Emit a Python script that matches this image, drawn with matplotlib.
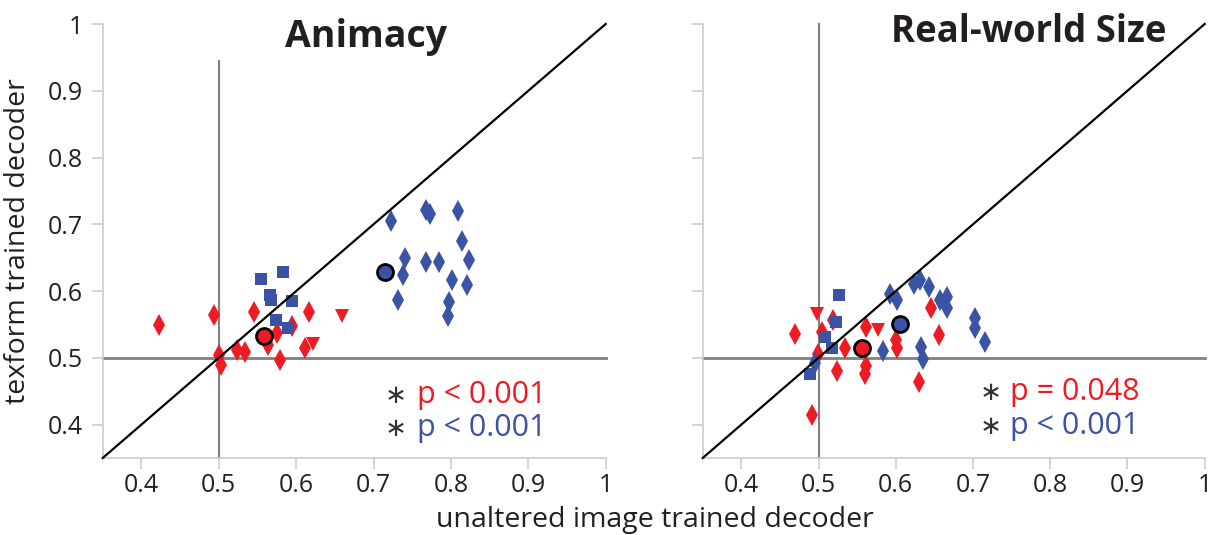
import matplotlib
matplotlib.use("Agg")
import matplotlib.pyplot as plt

plt.rcParams['font.family'] = ['Open Sans', 'DejaVu Sans']

RED = '#ed1c24'
BLUE = '#3a53a4'

# Animacy panel
ani_red_d_x = [0.423, 0.494, 0.546, 0.616, 0.500, 0.503, 0.524, 0.534, 0.579, 0.575, 0.594, 0.564, 0.612]
ani_red_d_y = [0.549, 0.564, 0.569, 0.569, 0.505, 0.489, 0.512, 0.509, 0.497, 0.537, 0.547, 0.519, 0.514]
ani_red_t_x = [0.622, 0.659]
ani_red_t_y = [0.521, 0.562]
ani_blue_s_x = [0.554, 0.583, 0.566, 0.567, 0.594, 0.574, 0.590]
ani_blue_s_y = [0.618, 0.628, 0.594, 0.586, 0.585, 0.557, 0.544]
ani_blue_d_x = [0.723, 0.768, 0.773, 0.809, 0.814, 0.823, 0.741, 0.738, 0.768, 0.784, 0.801, 0.821, 0.732, 0.798, 0.796]
ani_blue_d_y = [0.705, 0.722, 0.715, 0.720, 0.675, 0.647, 0.649, 0.624, 0.644, 0.644, 0.617, 0.609, 0.587, 0.584, 0.562]
ani_mean_red = (0.558, 0.532)
ani_mean_blue = (0.715, 0.628)

# Real-world size panel
rws_red_d_x = [0.469, 0.519, 0.504, 0.534, 0.524, 0.562, 0.562, 0.560, 0.600, 0.601, 0.646, 0.656, 0.630, 0.492, 0.499]
rws_red_d_y = [0.535, 0.556, 0.539, 0.514, 0.481, 0.546, 0.488, 0.476, 0.526, 0.514, 0.574, 0.534, 0.464, 0.414, 0.506]
rws_red_t_x = [0.498, 0.577]
rws_red_t_y = [0.566, 0.541]
rws_blue_s_x = [0.527, 0.522, 0.509, 0.517, 0.489]
rws_blue_s_y = [0.594, 0.553, 0.531, 0.514, 0.476]
rws_blue_d_x = [0.496, 0.583, 0.592, 0.601, 0.623, 0.631, 0.643, 0.657, 0.666, 0.666, 0.633, 0.635, 0.703, 0.703, 0.716]
rws_blue_d_y = [0.493, 0.511, 0.596, 0.586, 0.611, 0.616, 0.606, 0.586, 0.591, 0.574, 0.516, 0.498, 0.559, 0.544, 0.523]
rws_mean_red = (0.556, 0.514)
rws_mean_blue = (0.605, 0.551)

ticks = [0.4, 0.5, 0.6, 0.7, 0.8, 0.9, 1.0]
tick_labels = ['0.4', '0.5', '0.6', '0.7', '0.8', '0.9', '1']


def draw_panel(ax, rd, rt, bs, bd, mr, mb, vtop, ylabels):
    ax.set_xlim(0.35, 1.0)
    ax.set_ylim(0.35, 1.0)
    for s in ['top', 'right']:
        ax.spines[s].set_visible(False)
    for s in ['left', 'bottom']:
        ax.spines[s].set_color('#c8c8c8')
        ax.spines[s].set_linewidth(1.1)
    ax.set_xticks(ticks)
    ax.set_xticklabels(tick_labels)
    ax.set_yticks(ticks)
    if ylabels:
        ax.set_yticklabels(tick_labels)
    else:
        ax.set_yticklabels([])
    ax.tick_params(axis='both', direction='out', length=8, width=1.1, color='#c8c8c8',
                   labelsize=18, labelcolor='#231f20')
    ax.tick_params(axis='y', pad=6)
    ax.tick_params(axis='x', pad=3)

    # reference lines
    ax.plot([0.35, 1.0], [0.5, 0.5], color='#808080', lw=2, zorder=1, clip_on=False)
    ax.plot([0.5, 0.5], [0.35, vtop], color='#808080', lw=1.5, zorder=1, clip_on=False)

    ax.plot(rd[0], rd[1], 'd', color=RED, ms=11, mew=0, zorder=2, clip_on=False)
    ax.plot(rt[0], rt[1], 'v', color=RED, ms=10.5, mew=0, zorder=2, clip_on=False)
    ax.plot(bs[0], bs[1], 's', color=BLUE, ms=8.5, mew=0, zorder=2, clip_on=False)
    ax.plot(bd[0], bd[1], 'd', color=BLUE, ms=11, mew=0, zorder=2, clip_on=False)

    ax.plot([0.35, 1.0], [0.35, 1.0], color='black', lw=1.6, zorder=3, clip_on=False)

    ax.plot([mr[0]], [mr[1]], 'o', mfc=RED, mec='black', ms=11.5, mew=2, zorder=4)
    ax.plot([mb[0]], [mb[1]], 'o', mfc=BLUE, mec='black', ms=11.5, mew=2, zorder=4)


W, H = 1214, 535
fig = plt.figure(figsize=(W / 100, H / 100), dpi=100)

ax1 = fig.add_axes([102.7 / W, 77 / H, 503 / W, 434 / H])
ax2 = fig.add_axes([702.7 / W, 77 / H, 502 / W, 434 / H])

draw_panel(ax1, (ani_red_d_x, ani_red_d_y), (ani_red_t_x, ani_red_t_y),
           (ani_blue_s_x, ani_blue_s_y), (ani_blue_d_x, ani_blue_d_y),
           ani_mean_red, ani_mean_blue, 0.944, True)
draw_panel(ax2, (rws_red_d_x, rws_red_d_y), (rws_red_t_x, rws_red_t_y),
           (rws_blue_s_x, rws_blue_s_y), (rws_blue_d_x, rws_blue_d_y),
           rws_mean_red, rws_mean_blue, 1.0, False)

# titles
fig.text(366.5 / W, 1 - 47 / H, 'Animacy', fontsize=27, fontweight='bold',
         ha='center', va='baseline', color='#231f20')
fig.text(1028.5 / W, 1 - 42 / H, 'Real-world Size', fontsize=26.3, fontweight='bold',
         ha='center', va='baseline', color='#231f20')

# axis labels
fig.text(655 / W, 1 - 527 / H, 'unaltered image trained decoder', fontsize=20.5,
         ha='center', va='baseline', color='#231f20')
fig.text(4 / W, 1 - 241 / H, 'texform trained decoder', fontsize=20.5, rotation=90,
         ha='left', va='center', color='#231f20')

# significance notes
notes = [
    (396, 417, 403, 'p < 0.001', RED),
    (396, 417, 436, 'p < 0.001', BLUE),
    (991, 1010, 400, 'p = 0.048', RED),
    (991, 1010, 434, 'p < 0.001', BLUE),
]
for ax_x, tx, base, txt, col in notes:
    fig.text(ax_x / W, 1 - (base - 7) / H, '\u2217', fontsize=19, ha='center', va='center',
             color='#333333', family=['DejaVu Sans'])
    fig.text(tx / W, 1 - base / H, txt, fontsize=22, ha='left', va='baseline', color=col)

fig.savefig('out.png', dpi=100)
